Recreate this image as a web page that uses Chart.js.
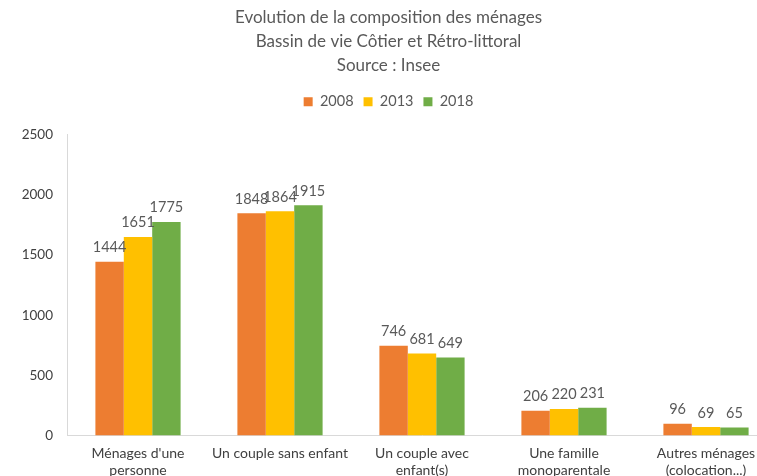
<!DOCTYPE html>
<html>
<head>
<meta charset="utf-8">
<script src="https://cdn.jsdelivr.net/npm/chart.js@4/dist/chart.umd.min.js"></script>
<style>
  html, body { margin: 0; padding: 0; background: #fff; }
  #wrap { width: 757px; height: 476px; overflow: hidden; position: relative; }
  #box { width: 794px; height: 481px; position: absolute; left: 0; top: 0; }
</style>
</head>
<body>
<div id="wrap"><div id="box"><canvas id="chart"></canvas></div></div>
<script>
// données (Insee)
const categories = [
    ["Ménages d'une", "personne"],
    "Un couple sans enfant",
    ["Un couple avec", "enfant(s)"],
    ["Une famille", "monoparentale"],
    ["Autres ménages", "(colocation...)"]
];
const years = ["2008", "2013", "2018"];
const values2008 = [1444, 1848, 746, 206, 96];
const values2013 = [1651, 1864, 681, 220, 69];
const values2018 = [1775, 1915, 649, 231, 65];
const yTicks = [0, 500, 1000, 1500, 2000, 2500];

const colors = ["#ED7D31", "#FFC000", "#70AD47"];
const font = "Lato, 'Liberation Sans', sans-serif";

// étiquettes de valeurs au-dessus des barres
const barLabels = {
    id: "barLabels",
    afterDatasetsDraw(chart) {
        const ctx = chart.ctx;
        ctx.save();
        ctx.font = "14.5px " + font;
        ctx.fillStyle = "#595959";
        ctx.textAlign = "center";
        ctx.textBaseline = "bottom";
        chart.data.datasets.forEach((ds, i) => {
            chart.getDatasetMeta(i).data.forEach((bar, j) => {
                ctx.fillText(ds.data[j], bar.x, bar.y - 7);
            });
        });
        ctx.restore();
    }
};

const allValues = [values2008, values2013, values2018];

new Chart(document.getElementById("chart").getContext("2d"), {
    type: "bar",
    data: {
        labels: categories,
        datasets: years.map((y, i) => ({
            label: y,
            data: allValues[i],
            backgroundColor: colors[i],
            borderWidth: 0,
            categoryPercentage: 0.6,
            barPercentage: 1.0
        }))
    },
    options: {
        responsive: true,
        maintainAspectRatio: false,
        animation: false,
        layout: { padding: { left: 0, right: 17, top: 0, bottom: 0 } },
        plugins: {
            title: {
                display: true,
                text: ["Evolution de la composition des ménages", "Bassin de vie Côtier et Rétro-littoral", "Source : Insee"],
                color: "#595959",
                font: { size: 17, family: font, weight: "normal", lineHeight: 1.4 },
                padding: { top: 6, bottom: 7 }
            },
            legend: {
                display: true,
                labels: {
                    color: "#595959",
                    font: { size: 14.5, family: font },
                    boxWidth: 9,
                    boxHeight: 9,
                    padding: 10
                }
            },
            tooltip: { enabled: false }
        },
        scales: {
            x: {
                grid: { display: false },
                border: { display: true, color: "#d9d9d9" },
                ticks: {
                    color: "#404040",
                    font: { size: 14, family: font },
                    maxRotation: 0,
                    autoSkip: false,
                    padding: 2
                }
            },
            // espace vide entre la légende et la zone du graphique
            xTop: {
                type: "category",
                position: "top",
                display: true,
                grid: { display: false },
                border: { display: false },
                ticks: { display: false },
                afterFit: (s) => { s.height = 16; }
            },
            y: {
                min: 0,
                max: 2500,
                afterBuildTicks: (axis) => { axis.ticks = yTicks.map(v => ({ value: v })); },
                afterFit: (s) => { s.width = 67; },
                grid: { display: false },
                border: { display: true, color: "#d9d9d9" },
                ticks: {
                    color: "#404040",
                    font: { size: 13.5, family: font },
                    padding: 6,
                    callback: (v) => String(v)
                }
            }
        }
    },
    plugins: [barLabels]
});
</script>
</body>
</html>
